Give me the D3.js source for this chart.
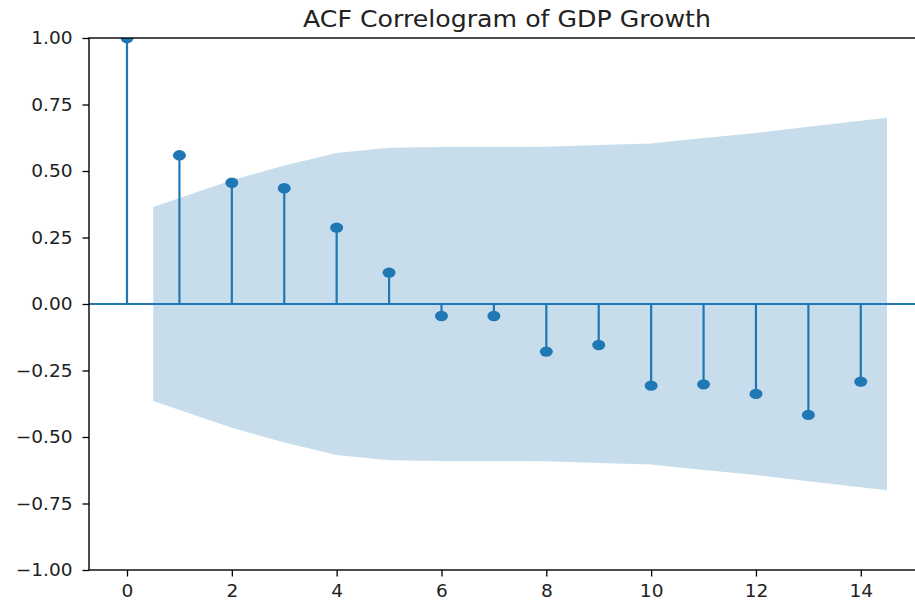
<!DOCTYPE html>
<html>
<head>
<meta charset="utf-8">
<script src="https://cdn.jsdelivr.net/npm/d3@7"></script>
<style>
  html, body { margin: 0; padding: 0; background: #fff; }
  svg { display: block; font-family: "DejaVu Sans", sans-serif; }
</style>
</head>
<body>
<svg id="chart" width="915" height="603"></svg>
<script>
// lags and autocorrelation values
const lags = [0, 1, 2, 3, 4, 5, 6, 7, 8, 9, 10, 11, 12, 13, 14];
const acfValues = [1.0, 0.559, 0.456, 0.435, 0.287, 0.118, -0.045, -0.045,
                   -0.179, -0.154, -0.307, -0.302, -0.338, -0.417, -0.292];
// half-width of the confidence band, lags 1..14
const bandLags = [1, 2, 3, 4, 5, 6, 7, 8, 9, 10, 11, 12, 13, 14];
const bandHalf = [0.365, 0.465, 0.521, 0.568, 0.587, 0.590, 0.590, 0.591,
                  0.598, 0.603, 0.624, 0.643, 0.666, 0.700];
const xTicks = [0, 2, 4, 6, 8, 10, 12, 14];
const yTicks = [-1, -0.75, -0.5, -0.25, 0, 0.25, 0.5, 0.75, 1];
const title = "ACF Correlogram of GDP Growth";

const blue = "#1f77b4";
const plotLeft = 89, plotTop = 38, plotRight = 925, plotBottom = 570;
// the source picture is a little wider than tall, text included
const stretch = 1.06;

const svg = d3.select("#chart");

const x = d3.scaleLinear().domain([-0.725, 15.225]).range([plotLeft, plotRight]);
const y = d3.scaleLinear().domain([-1, 1]).range([plotBottom, plotTop]);

svg.append("defs").append("clipPath").attr("id", "plotClip")
  .append("rect")
  .attr("x", plotLeft).attr("y", plotTop)
  .attr("width", plotRight - plotLeft).attr("height", plotBottom - plotTop);

const plot = svg.append("g").attr("clip-path", "url(#plotClip)");

// band: first and last lag pushed out by half a step, like statsmodels does
const bandX = bandLags.map((d, i) =>
  i === 0 ? d - 0.5 : (i === bandLags.length - 1 ? d + 0.5 : d));
const bandData = bandX.map((d, i) => ({ x: d, h: bandHalf[i] }));

plot.append("path")
  .datum(bandData)
  .attr("fill", blue)
  .attr("fill-opacity", 0.25)
  .attr("d", d3.area()
    .x(d => x(d.x))
    .y0(d => y(-d.h))
    .y1(d => y(d.h)));

// zero line
plot.append("line")
  .attr("x1", plotLeft).attr("x2", plotRight)
  .attr("y1", y(0)).attr("y2", y(0))
  .attr("stroke", blue).attr("stroke-width", 2.2);

const points = lags.map((d, i) => ({ lag: d, v: acfValues[i] }));

plot.selectAll(".stem")
  .data(points)
  .enter()
  .append("line")
    .attr("class", "stem")
    .attr("x1", d => x(d.lag)).attr("x2", d => x(d.lag))
    .attr("y1", y(0)).attr("y2", d => y(d.v))
    .attr("stroke", blue).attr("stroke-width", 2.2);

plot.selectAll(".dot")
  .data(points)
  .enter()
  .append("ellipse")
    .attr("class", "dot")
    .attr("cx", d => x(d.lag))
    .attr("cy", d => y(d.v))
    .attr("rx", 6.5).attr("ry", 5.2)
    .attr("fill", blue);

// axes
const xAxis = d3.axisBottom(x).tickValues(xTicks).tickSize(6.5).tickPadding(8)
  .tickFormat(d3.format("d"));
const yAxis = d3.axisLeft(y).tickValues(yTicks).tickSize(6.5).tickPadding(10)
  .tickFormat(d3.format(".2f"));

const gx = svg.append("g")
  .attr("transform", "translate(0," + plotBottom + ")")
  .call(xAxis);
const gy = svg.append("g")
  .attr("transform", "translate(" + plotLeft + ",0)")
  .call(yAxis);

[gx, gy].forEach(g => {
  g.select(".domain").remove();
  g.selectAll(".tick line").attr("stroke", "#000").attr("stroke-width", 1.3);
  g.selectAll(".tick text")
    .attr("fill", "#222")
    .style("font-family", "DejaVu Sans, sans-serif")
    .style("font-size", "17.5px");
});

// spines (right one falls outside the picture)
svg.append("rect")
  .attr("x", plotLeft).attr("y", plotTop)
  .attr("width", plotRight - plotLeft).attr("height", plotBottom - plotTop)
  .attr("fill", "none").attr("stroke", "#000").attr("stroke-width", 1.4);

svg.append("text")
  .attr("x", 507)
  .attr("y", 27.3)
  .attr("text-anchor", "middle")
  .attr("fill", "#222")
  .style("font-size", "23.8px")
  .text(title);

// widen all text slightly
svg.selectAll("text").each(function() {
  const w = this.getComputedTextLength();
  d3.select(this)
    .attr("textLength", w * stretch)
    .attr("lengthAdjust", "spacingAndGlyphs");
});
</script>
</body>
</html>
